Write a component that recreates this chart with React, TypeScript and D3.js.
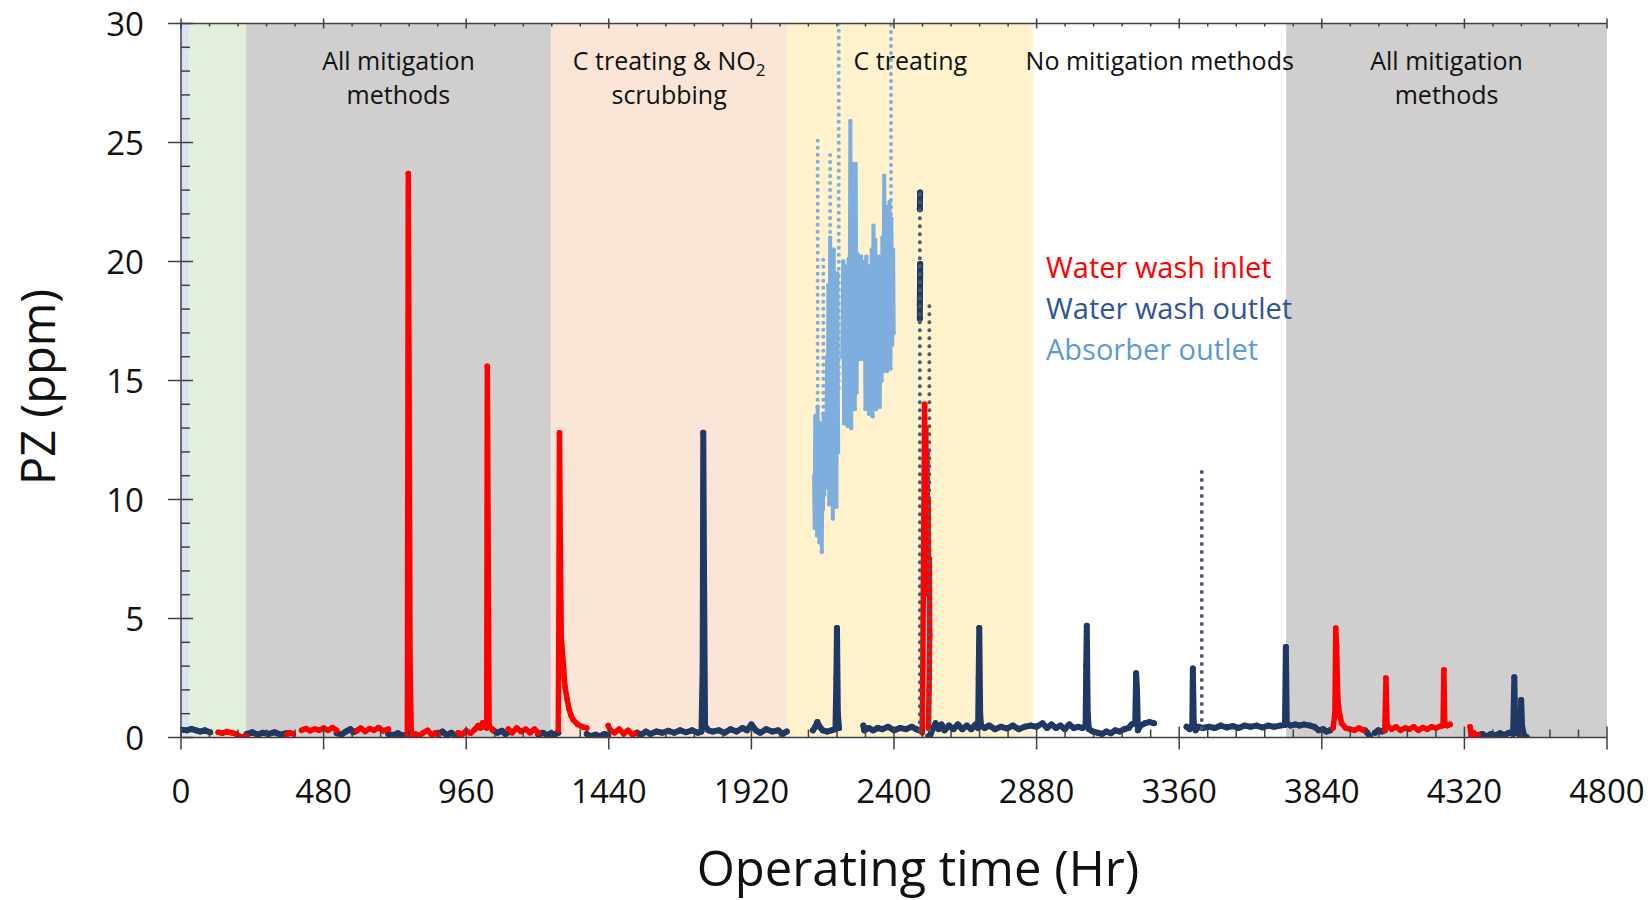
import React, { useEffect, useRef } from 'react';
import * as d3 from 'd3';

// operating-mode bands (hours)
const bandStart = [0, 28, 219, 1245, 2041, 2869, 3720];
const bandEnd = [28, 219, 1245, 2041, 2869, 3720, 4800];
const bandFill = ['#dae3f3', '#e2efda', '#d0cece', '#fbe5d6', '#fff2cc', '#ffffff', '#d0cece'];
const bandLabels: (string[] | null)[] = [
  null,
  null,
  ['All mitigation', 'methods'],
  ['C treating & NO|2', 'scrubbing'],
  ['C treating'],
  ['No mitigation methods'],
  ['All mitigation', 'methods'],
];

const xTicks = [0, 480, 960, 1440, 1920, 2400, 2880, 3360, 3840, 4320, 4800];
const yTicks = [0, 5, 10, 15, 20, 25, 30];

const legendNames = ['Water wash inlet', 'Water wash outlet', 'Absorber outlet'];
const legendColors = ['#ff0000', '#2f5597', '#5b9bd5'];

type Pt = [number, number] | null;

// Water wash inlet, PZ ppm (null = gap in the record)
const inletData: Pt[] = [
  [125, 0.22], [140, 0.18], [155, 0.25], [170, 0.2], [185, 0.15], [195, 0.06], [210, 0.02], [221, 0.05], null,
  [356, 0.12], [368, 0.2], [378, 0.15], null,
  [406, 0.3], [420, 0.38], [435, 0.28], [450, 0.36], [465, 0.3], [480, 0.4], [495, 0.3], [510, 0.42], [524, 0.3], null,
  [591, 0.28], [605, 0.4], [620, 0.25], [635, 0.38], [650, 0.3], [665, 0.42], [680, 0.28], [698, 0.35], null,
  [762, 0.1], [765, 23.7], [768, 14], [771, 3], [775, 0.3], [779, 0.05], [790, 0.15], [800, 0.05], [815, 0.2],
  [830, 0.3], [845, 0.1], [856, 0.2], [866, 0.1], null,
  [933, 0.2], [945, 0.12], [960, 0.28], [975, 0.18], [990, 0.35], [1000, 0.5], [1008, 0.4], [1015, 0.62],
  [1020, 0.45], [1026, 0.6], [1029, 0.4], [1031, 15.6], [1034, 8], [1037, 0.5], [1043, 0.4], [1051, 0.3], null,
  [1102, 0.35], [1115, 0.2], [1130, 0.4], [1145, 0.25], [1160, 0.35], [1175, 0.2], [1190, 0.35], [1203, 0.2], null,
  [1270, 0.3], [1272, 5], [1274, 12.8], [1277, 8], [1280, 4.2], [1284, 3.6], [1288, 2.9], [1293, 2.1], [1300, 1.6],
  [1306, 1.2], [1312, 0.95], [1320, 0.75], [1335, 0.55], [1350, 0.45], [1366, 0.4], null,
  [1438, 0.5], [1445, 0.3], [1460, 0.2], [1475, 0.35], [1490, 0.15], [1505, 0.3], [1520, 0.12], [1533, 0.2], null,
  [2495, 0.2], [2497, 3], [2499, 7], [2501, 10], [2503, 14], [2505, 11], [2507, 13], [2509, 9], [2511, 12],
  [2513, 8], [2515, 10], [2517, 6], [2519, 7.5], [2520, 4.3], [2518, 2], [2516, 0.4], null,
  [3878, 0.4], [3884, 1], [3887, 4.6], [3890, 3.8], [3893, 2], [3896, 1.3], [3901, 0.9], [3907, 0.6], [3920, 0.4],
  [3935, 0.35], [3950, 0.3], [3965, 0.4], [3980, 0.3], null,
  [4052, 0.3], [4056, 2.5], [4060, 0.5], [4075, 0.35], [4090, 0.45], [4105, 0.3], [4120, 0.4], [4135, 0.35],
  [4150, 0.45], [4165, 0.3], [4180, 0.42], [4195, 0.35], [4210, 0.45], [4225, 0.4], [4240, 0.48], [4248, 0.5],
  [4251, 2.84], [4254, 0.6], [4262, 0.5], [4272, 0.55], null,
  [4339, 0.45], [4343, 0.05], [4352, 0.2], [4360, 0.02], [4366, 0.1],
];

// Water wash outlet, PZ ppm
const outletData: Pt[] = [
  [8, 0.32], [20, 0.3], [35, 0.36], [50, 0.3], [65, 0.25], [80, 0.3], [98, 0.22], null,
  [221, 0.15], [240, 0.22], [258, 0.12], [275, 0.2], [295, 0.15], [315, 0.22], [335, 0.12], [356, 0.18], null,
  [524, 0.18], [540, 0.12], [555, 0.25], [570, 0.35], [580, 0.22], [591, 0.28], null,
  [698, 0.15], [715, 0.1], [730, 0.18], [745, 0.08], [759, 0.12], null,
  [866, 0.15], [880, 0.25], [895, 0.1], [910, 0.2], [922, 0.08], [933, 0.15], null,
  [1051, 0.3], [1065, 0.2], [1080, 0.28], [1092, 0.15], [1102, 0.22], null,
  [1203, 0.12], [1218, 0.2], [1232, 0.1], [1246, 0.18], [1258, 0.12], [1270, 0.2], null,
  [1366, 0.15], [1380, 0.05], [1395, 0.12], [1410, 0.05], [1425, 0.15], [1438, 0.1], null,
  [1534, 0.2], [1550, 0.12], [1565, 0.25], [1580, 0.15], [1600, 0.25], [1620, 0.2], [1640, 0.28], [1660, 0.2],
  [1680, 0.3], [1700, 0.22], [1720, 0.3], [1740, 0.2], [1752, 0.25], [1756, 3], [1758, 12.8], [1761, 6],
  [1764, 0.5], [1775, 0.3], [1790, 0.25], [1810, 0.3], [1830, 0.2], [1850, 0.35], [1870, 0.25], [1890, 0.4],
  [1905, 0.3], [1920, 0.55], [1935, 0.3], [1950, 0.2], [1970, 0.35], [1990, 0.25], [2010, 0.3], [2025, 0.15],
  [2039, 0.25], null,
  [2127, 0.3], [2135, 0.45], [2142, 0.65], [2150, 0.45], [2160, 0.3], [2175, 0.25], [2190, 0.3], [2203, 0.35],
  [2206, 2.5], [2208, 4.6], [2211, 1], [2215, 0.4], null,
  [2297, 0.5], [2300, 0.3], [2315, 0.4], [2330, 0.3], [2345, 0.4], [2360, 0.35], [2380, 0.45], [2400, 0.3],
  [2420, 0.4], [2440, 0.35], [2460, 0.45], [2475, 0.35], [2484, 0.3], null,
  [2487, 17.6], [2488, 19.9], [2487, 18.2], [2488, 19.5], null,
  [2487, 22.2], [2488, 22.9], null,
  [2516, 0.05], [2522, 0.1], [2530, 0.35], [2540, 0.6], [2550, 0.35], [2560, 0.55], [2570, 0.3], [2585, 0.5],
  [2600, 0.35], [2615, 0.55], [2630, 0.35], [2645, 0.5], [2660, 0.35], [2675, 0.55], [2683, 0.4], [2685, 2.5],
  [2687, 4.6], [2690, 1], [2693, 0.5], [2705, 0.4], [2720, 0.5], [2740, 0.35], [2760, 0.45], [2780, 0.38],
  [2800, 0.5], [2820, 0.35], [2840, 0.45], [2860, 0.5], [2880, 0.45], [2900, 0.6], [2915, 0.4], [2930, 0.55],
  [2945, 0.4], [2960, 0.5], [2975, 0.35], [2990, 0.55], [3005, 0.4], [3020, 0.45], [3035, 0.4], [3045, 0.5],
  [3047, 3], [3049, 4.7], [3052, 1], [3056, 0.35], [3070, 0.25], [3085, 0.2], [3100, 0.15], [3115, 0.25],
  [3130, 0.18], [3145, 0.3], [3160, 0.25], [3175, 0.35], [3190, 0.4], [3200, 0.55], [3212, 0.6], [3215, 2.7],
  [3218, 2], [3221, 0.3], [3230, 0.5], [3245, 0.6], [3260, 0.65], [3275, 0.6], null,
  [3385, 0.45], [3395, 0.35], [3404, 0.5], [3406, 2.9], [3409, 0.6], [3415, 0.3], [3425, 0.45], [3440, 0.4],
  [3460, 0.45], [3480, 0.4], [3500, 0.5], [3520, 0.42], [3540, 0.48], [3560, 0.4], [3580, 0.5], [3600, 0.45],
  [3620, 0.5], [3640, 0.42], [3660, 0.5], [3680, 0.45], [3700, 0.5], [3716, 0.52], [3719, 3.8], [3722, 0.6],
  [3735, 0.5], [3750, 0.55], [3765, 0.5], [3780, 0.55], [3800, 0.5], [3815, 0.45], [3830, 0.3], [3845, 0.35],
  [3855, 0.25], [3868, 0.3], null,
  [3985, 0.3], [3993, 0.2], [4002, 0.05], null,
  [4019, 0.2], [4030, 0.3], [4042, 0.25], [4052, 0.3], null,
  [4366, 0.1], [4380, 0.15], [4395, 0.05], [4410, 0.15], [4425, 0.08], [4440, 0.18], [4455, 0.1], [4470, 0.2],
  [4484, 0.15], [4488, 2.53], [4491, 0.5], [4496, 0.2], [4503, 0.15], [4509, 0.3], [4511, 1.58], [4514, 0.5],
  [4520, 0.1], [4529, 0.02],
];

// sparse outlet readings during fast transients (drawn as dotted columns)
const outletSparse: Pt[] = [
  [2487, 0.3], [2487, 22.9], null,
  [2519, 0.3], [2519, 18.3], null,
  [3436, 0.4], [3436, 11.2],
];

// Absorber outlet, PZ ppm
const absorberData: Pt[] = [
  [2131, 11], [2133, 8.8], [2135, 13.5], [2137, 9.2], [2139, 12.8], [2141, 8.5], [2143, 13.9], [2145, 9.5],
  [2147, 12.5], [2149, 8.2], [2151, 13.2], [2153, 9], [2155, 12], [2157, 7.8], [2159, 11.5], [2161, 9.6],
  [2163, 13.6], [2165, 10.2], null,
  [2172, 12], [2175, 16], [2177, 10.5], [2179, 19], [2182, 9.8], [2185, 21], [2188, 11], [2191, 17.5],
  [2194, 9.2], [2197, 20.5], [2200, 10.5], [2203, 18], [2206, 9.7], [2209, 19.5], [2212, 12], null,
  [2226, 16], [2229, 20], [2232, 13.2], [2235, 19.8], [2238, 14], [2241, 18.5], [2244, 13.1], [2247, 20.1],
  [2250, 13.5], [2253, 25.9], [2256, 13], [2259, 24.1], [2262, 14.2], [2265, 23.5], [2268, 13.8], [2271, 24.1],
  [2274, 14.5], [2277, 20.3], [2280, 16], [2283, 19.8], [2286, 15.9], [2289, 20.2], [2292, 16.3], [2295, 19.5],
  [2298, 15.9], [2301, 20], [2304, 13.8], [2307, 20.2], [2310, 14.2], [2313, 19.8], [2316, 13.6], [2319, 18.8],
  [2322, 14.5], [2325, 20.5], [2328, 13.5], [2331, 21.5], [2334, 14], [2337, 20.9], [2340, 13.8], [2343, 19.5],
  [2346, 14.2], [2349, 20.2], [2352, 13.9], [2355, 18.5], [2358, 15], [2361, 21], [2364, 15.4], [2367, 23.6],
  [2370, 15.8], [2373, 22.3], [2376, 15.4], [2379, 22], [2382, 16], [2385, 22.5], [2388, 15.5], [2391, 21.8],
  [2394, 16.5], [2397, 20.5], [2399, 17],
];

const absorberSparse: Pt[] = [
  [2143, 13.9], [2143, 25.2], null,
  [2162, 13.6], [2162, 20.3], null,
  [2185, 18], [2185, 24.7], null,
  [2214, 14.7], [2214, 30], null,
  [2390, 22], [2390, 30],
];

const FONT = '"Open Sans", "Noto Sans", sans-serif';

function App() {
  const ref = useRef<SVGSVGElement>(null);
  const width = 1652;
  const height = 900;

  useEffect(() => {
    const svg = d3.select(ref.current);
    svg.selectAll('*').remove();

    const x = d3.scaleLinear().domain([0, 4800]).range([181, 1607]);
    const y = d3.scaleLinear().domain([0, 30]).range([737.5, 23.5]);

    // background bands
    const bands = bandStart.map((s, i) => ({ s, e: bandEnd[i], fill: bandFill[i], label: bandLabels[i] }));
    svg.append('g')
      .selectAll('rect')
      .data(bands)
      .enter()
      .append('rect')
      .attr('x', d => x(d.s))
      .attr('width', d => x(d.e) - x(d.s))
      .attr('y', y(30))
      .attr('height', y(0) - y(30))
      .attr('fill', d => d.fill);

    const labelG = svg.append('g')
      .style('font-family', FONT)
      .style('font-size', '25px')
      .attr('fill', '#111');
    bands.forEach(b => {
      if (!b.label) return;
      const cx = (x(b.s) + x(b.e)) / 2;
      b.label.forEach((line, j) => {
        const t = labelG.append('text')
          .attr('x', cx)
          .attr('y', 70 + j * 34)
          .attr('text-anchor', 'middle');
        const parts = line.split('|');
        t.append('tspan').text(parts[0]);
        if (parts[1]) {
          t.append('tspan')
            .attr('dy', 6)
            .style('font-size', '17px')
            .text(parts[1]);
        }
      });
    });

    // data
    const clip = svg.append('defs').append('clipPath').attr('id', 'plot-clip');
    clip.append('rect')
      .attr('x', x(0)).attr('y', y(30))
      .attr('width', x(4800) - x(0)).attr('height', y(0) - y(30));

    const plot = svg.append('g').attr('clip-path', 'url(#plot-clip)');

    const line = d3.line<Pt>()
      .defined(d => d !== null)
      .x(d => x((d as [number, number])[0]))
      .y(d => y((d as [number, number])[1]));

    function drawSeries(data: Pt[], color: string, sw: number, r: number) {
      plot.append('path')
        .attr('d', line(data))
        .attr('fill', 'none')
        .attr('stroke', color)
        .attr('stroke-width', sw)
        .attr('stroke-linejoin', 'round')
        .attr('stroke-linecap', 'round');
      plot.append('g')
        .selectAll('circle')
        .data(data.filter(d => d !== null) as [number, number][])
        .enter()
        .append('circle')
        .attr('cx', d => x(d[0]))
        .attr('cy', d => y(d[1]))
        .attr('r', r)
        .attr('fill', color);
    }

    function drawSparse(data: Pt[], color: string, size: number, gap: number) {
      plot.append('path')
        .attr('d', line(data))
        .attr('fill', 'none')
        .attr('stroke', color)
        .attr('stroke-width', size)
        .attr('stroke-linecap', 'round')
        .attr('stroke-dasharray', `0 ${gap}`);
    }

    drawSeries(absorberData, '#7eaedd', 4, 2.2);
    drawSparse(absorberSparse, '#7eaedd', 4, 7);
    drawSeries(outletData, '#203864', 6, 3);
    drawSeries(inletData, '#ff0000', 5.5, 2.8);
    drawSparse(outletSparse, '#4d5870', 4, 8);

    // axes
    const axisColor = '#404040';
    const axes = svg.append('g').attr('stroke', axisColor).attr('stroke-width', 1.5);

    axes.append('line').attr('x1', x(0)).attr('x2', x(4800)).attr('y1', y(0)).attr('y2', y(0));
    axes.append('line').attr('x1', x(0)).attr('x2', x(4800)).attr('y1', y(30)).attr('y2', y(30));
    axes.append('line').attr('x1', x(0)).attr('x2', x(0)).attr('y1', y(0)).attr('y2', y(30));

    const xMinor = d3.range(0, 4801, 96).filter(v => !xTicks.includes(v));
    const yMinor = d3.range(0, 31, 1).filter(v => !yTicks.includes(v));

    // bottom axis ticks
    axes.selectAll('.xb-major').data(xTicks).enter().append('line')
      .attr('x1', d => x(d)).attr('x2', d => x(d))
      .attr('y1', y(0) - 11).attr('y2', y(0) + 12);
    axes.selectAll('.xb-minor').data(xMinor).enter().append('line')
      .attr('x1', d => x(d)).attr('x2', d => x(d))
      .attr('y1', y(0) - 8).attr('y2', y(0));
    // top axis ticks
    axes.selectAll('.xt-major').data(xTicks).enter().append('line')
      .attr('x1', d => x(d)).attr('x2', d => x(d))
      .attr('y1', y(30) - 5).attr('y2', y(30) + 5);
    axes.selectAll('.xt-minor').data(xMinor).enter().append('line')
      .attr('x1', d => x(d)).attr('x2', d => x(d))
      .attr('y1', y(30)).attr('y2', y(30) + 3);
    // left axis ticks
    axes.selectAll('.y-major').data(yTicks).enter().append('line')
      .attr('x1', x(0) - 13).attr('x2', x(0) + 12)
      .attr('y1', d => y(d)).attr('y2', d => y(d));
    axes.selectAll('.y-minor').data(yMinor).enter().append('line')
      .attr('x1', x(0)).attr('x2', x(0) + 9)
      .attr('y1', d => y(d)).attr('y2', d => y(d));

    // tick labels
    svg.append('g')
      .style('font-family', FONT)
      .style('font-size', '33px')
      .attr('fill', '#111')
      .selectAll('text')
      .data(xTicks)
      .enter()
      .append('text')
      .attr('x', d => x(d))
      .attr('y', 803)
      .attr('text-anchor', 'middle')
      .text(d => d);

    svg.append('g')
      .style('font-family', FONT)
      .style('font-size', '33px')
      .attr('fill', '#111')
      .selectAll('text')
      .data(yTicks)
      .enter()
      .append('text')
      .attr('x', 144)
      .attr('y', d => y(d) + 12)
      .attr('text-anchor', 'end')
      .text(d => d);

    // axis titles
    svg.append('text')
      .attr('x', 918)
      .attr('y', 886)
      .attr('text-anchor', 'middle')
      .style('font-family', FONT)
      .style('font-size', '49px')
      .attr('fill', '#111')
      .text('Operating time (Hr)');

    svg.append('text')
      .attr('transform', 'translate(55,387) rotate(-90)')
      .attr('text-anchor', 'middle')
      .style('font-family', FONT)
      .style('font-size', '47px')
      .attr('fill', '#111')
      .text('PZ (ppm)');

    // legend
    svg.append('g')
      .style('font-family', FONT)
      .style('font-size', '29px')
      .selectAll('text')
      .data(legendNames)
      .enter()
      .append('text')
      .attr('x', 1046)
      .attr('y', (d, i) => 278 + i * 41)
      .attr('fill', (d, i) => legendColors[i])
      .text(d => d);
  }, []);

  return (
    <div style={{ position: 'absolute', left: 0, top: 0, width: '1652px', height: '900px', background: '#fff' }}>
      <svg ref={ref} width={width} height={height} />
    </div>
  );
}

export default App;
